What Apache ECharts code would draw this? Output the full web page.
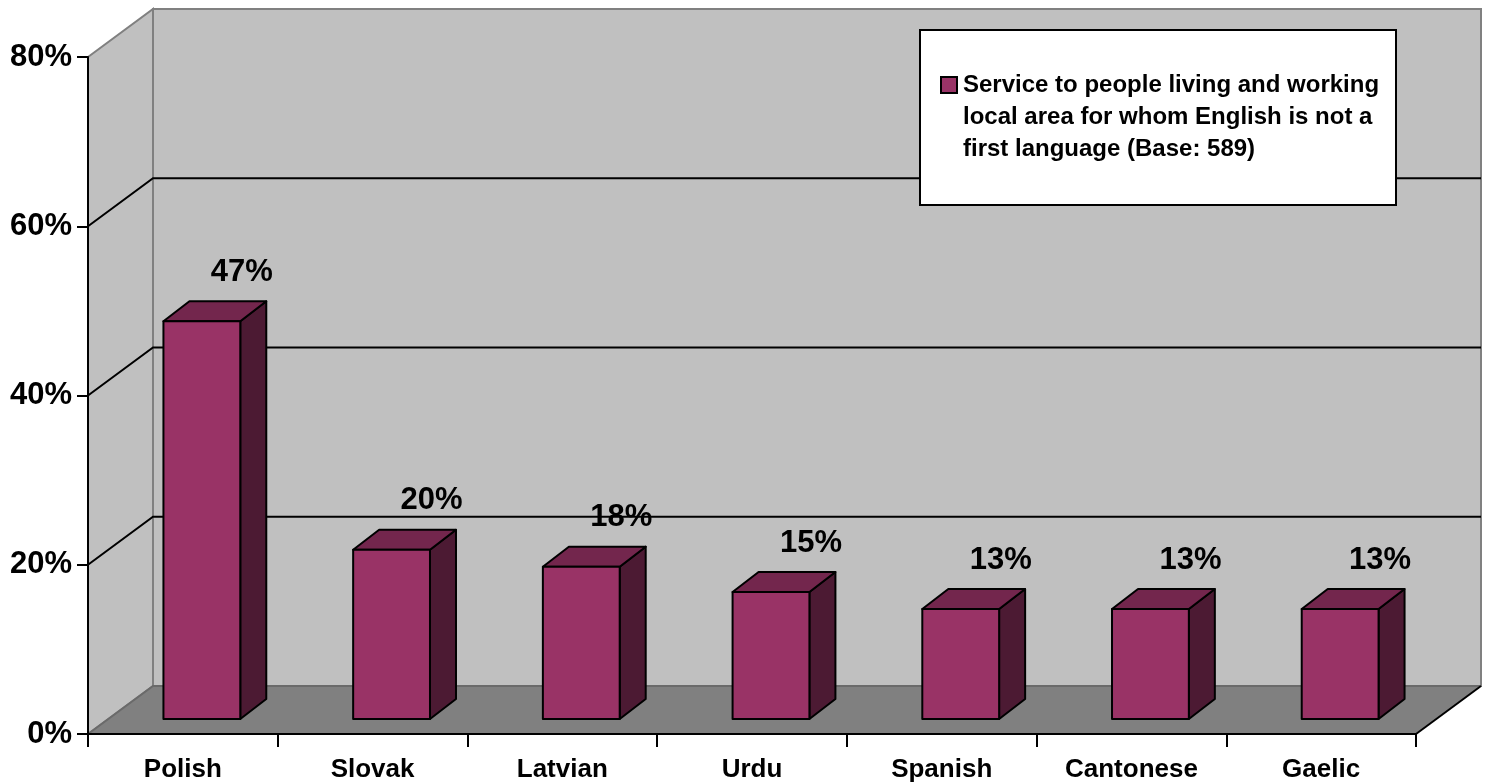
<!DOCTYPE html>
<html>
<head>
<meta charset="utf-8">
<script src="https://cdn.jsdelivr.net/npm/echarts@6/dist/echarts.min.js"></script>
<style>
  html, body { margin: 0; padding: 0; background: #ffffff; }
  #chart { width: 1488px; height: 783px; }
</style>
</head>
<body>
<div id="chart"></div>
<script>
// Languages and the share of respondents asking for each
const categories = ['Polish', 'Slovak', 'Latvian', 'Urdu', 'Spanish', 'Cantonese', 'Gaelic'];
const shares = [0.47, 0.20, 0.18, 0.15, 0.13, 0.13, 0.13];
const yTicks = [0, 0.2, 0.4, 0.6, 0.8];
const legendLines = [
  'Service to people living and working',
  'local area for whom English is not a',
  'first language (Base: 589)'
];

const FONT = 'Arial, "Liberation Sans", Helvetica, sans-serif';

// Perspective offsets for the pseudo-3D box
const WALL_DX = 65, WALL_DY = -48;     // front plane -> back wall
const BAR_OFF_X = 19, BAR_OFF_Y = -15; // front plane -> bar front face
const BAR_DX = 26, BAR_DY = -20;       // bar depth
const BAR_WIDTH_RATIO = 0.405;
const LABEL_DX = 40, LABEL_DY = -49;   // value label relative to bar front top

// Legend box placement
const LEGEND_BOX = { x: 920, y: 30, width: 476, height: 175 };

const COLORS = {
  wall: '#c0c0c0',
  wallEdge: '#808080',
  floor: '#808080',
  barFront: '#993366',
  barTop: '#73264d',
  barSide: '#4c1a33'
};

const chart = echarts.init(document.getElementById('chart'), null, { renderer: 'canvas' });

function renderBox(params, api) {
  const cs = params.coordSys;
  const x = cs.x, y = cs.y, w = cs.width, h = cs.height;
  const children = [];
  // back wall
  children.push({
    type: 'polygon',
    shape: { points: [[x + WALL_DX, y + WALL_DY], [x + w + WALL_DX, y + WALL_DY], [x + w + WALL_DX, y + h + WALL_DY], [x + WALL_DX, y + h + WALL_DY]] },
    style: { fill: COLORS.wall, stroke: COLORS.wallEdge, lineWidth: 2 }
  });
  // side wall
  children.push({
    type: 'polygon',
    shape: { points: [[x, y], [x + WALL_DX, y + WALL_DY], [x + WALL_DX, y + h + WALL_DY], [x, y + h]] },
    style: { fill: COLORS.wall, stroke: COLORS.wallEdge, lineWidth: 2 }
  });
  // gridlines across side wall and back wall
  yTicks.forEach(function (v) {
    if (v <= 0 || v >= yTicks[yTicks.length - 1]) return;
    const py = api.coord([0, v])[1];
    children.push({
      type: 'polyline',
      shape: { points: [[x, py], [x + WALL_DX, py + WALL_DY], [x + w + WALL_DX, py + WALL_DY]] },
      style: { stroke: '#000000', lineWidth: 2, fill: null }
    });
  });
  // floor
  children.push({
    type: 'polygon',
    shape: { points: [[x, y + h], [x + WALL_DX, y + h + WALL_DY], [x + w + WALL_DX, y + h + WALL_DY], [x + w, y + h]] },
    style: { fill: COLORS.floor, stroke: null }
  });
  children.push({
    type: 'polyline',
    shape: { points: [[x, y + h], [x + WALL_DX, y + h + WALL_DY], [x + w + WALL_DX, y + h + WALL_DY]] },
    style: { stroke: '#6a6a6a', lineWidth: 2, fill: null }
  });
  children.push({
    type: 'line',
    shape: { x1: x + w, y1: y + h, x2: x + w + WALL_DX, y2: y + h + WALL_DY },
    style: { stroke: '#000000', lineWidth: 2 }
  });
  return { type: 'group', children: children };
}

function renderBar(params, api) {
  const i = api.value(0), v = api.value(1);
  const base = api.coord([i, 0]);
  const top = api.coord([i, v]);
  const bw = api.size([1, 0])[0] * BAR_WIDTH_RATIO;
  const x0 = base[0] + BAR_OFF_X - bw / 2, x1 = x0 + bw;
  const yb = base[1] + BAR_OFF_Y, yt = top[1] + BAR_OFF_Y;
  const edge = { stroke: '#000000', lineWidth: 2, lineJoin: 'round' };
  return {
    type: 'group',
    children: [
      { type: 'polygon', shape: { points: [[x1, yt], [x1 + BAR_DX, yt + BAR_DY], [x1 + BAR_DX, yb + BAR_DY], [x1, yb]] },
        style: Object.assign({ fill: COLORS.barSide }, edge) },
      { type: 'polygon', shape: { points: [[x0, yt], [x0 + BAR_DX, yt + BAR_DY], [x1 + BAR_DX, yt + BAR_DY], [x1, yt]] },
        style: Object.assign({ fill: COLORS.barTop }, edge) },
      { type: 'rect', shape: { x: x0, y: yt, width: bw, height: yb - yt },
        style: Object.assign({ fill: COLORS.barFront }, edge) },
      { type: 'text', style: {
          text: Math.round(v * 100) + '%',
          x: x0 + bw / 2 + LABEL_DX, y: yt + LABEL_DY,
          align: 'center', verticalAlign: 'middle',
          font: 'bold 31px ' + FONT, fill: '#000000'
      } }
    ]
  };
}

function renderLegend() {
  const b = LEGEND_BOX;
  return {
    type: 'group',
    children: [
      { type: 'rect', shape: { x: b.x, y: b.y, width: b.width, height: b.height },
        style: { fill: '#ffffff', stroke: '#000000', lineWidth: 2 } },
      { type: 'rect', shape: { x: b.x + 21, y: b.y + 47, width: 16, height: 16 },
        style: { fill: COLORS.barFront, stroke: '#000000', lineWidth: 2 } },
      { type: 'text', style: {
          text: legendLines.join('\n'), x: b.x + 43, y: b.y + 39,
          font: 'bold 24px ' + FONT, lineHeight: 32,
          fill: '#000000', verticalAlign: 'top', align: 'left'
      } }
    ]
  };
}

const option = {
  backgroundColor: '#ffffff',
  animation: false,
  grid: { left: 88, right: 72, top: 57, bottom: 49, containLabel: false },
  xAxis: {
    type: 'category',
    data: categories,
    boundaryGap: true,
    z: 5,
    axisLine: { lineStyle: { color: '#000000', width: 2 } },
    axisTick: { show: true, length: 13, lineStyle: { color: '#000000', width: 2 } },
    axisLabel: { margin: 23, color: '#000000', fontFamily: FONT, fontWeight: 'bold', fontSize: 26 },
    splitLine: { show: false }
  },
  yAxis: {
    type: 'value',
    min: 0, max: 0.8, interval: 0.2,
    z: 5,
    axisLine: { show: true, lineStyle: { color: '#000000', width: 2 } },
    axisTick: { show: true, length: 11, lineStyle: { color: '#000000', width: 2 } },
    axisLabel: {
      margin: 16, color: '#000000', fontFamily: FONT, fontWeight: 'bold', fontSize: 31,
      padding: [5, 0, 0, 0],
      formatter: function (val) { return Math.round(val * 100) + '%'; }
    },
    splitLine: { show: false }
  },
  series: [
    {
      type: 'custom',
      name: 'box',
      silent: true,
      z: 1,
      renderItem: renderBox,
      data: [[0, 0]]
    },
    {
      type: 'custom',
      name: legendLines.join(' '),
      z: 3,
      itemStyle: { color: COLORS.barFront },
      renderItem: renderBar,
      data: categories.map(function (c, i) { return [i, shares[i]]; })
    },
    {
      type: 'custom',
      name: 'legend',
      coordinateSystem: 'none',
      silent: true,
      z: 10,
      renderItem: renderLegend,
      data: [[0]]
    }
  ]
};

chart.setOption(option);
</script>
</body>
</html>
